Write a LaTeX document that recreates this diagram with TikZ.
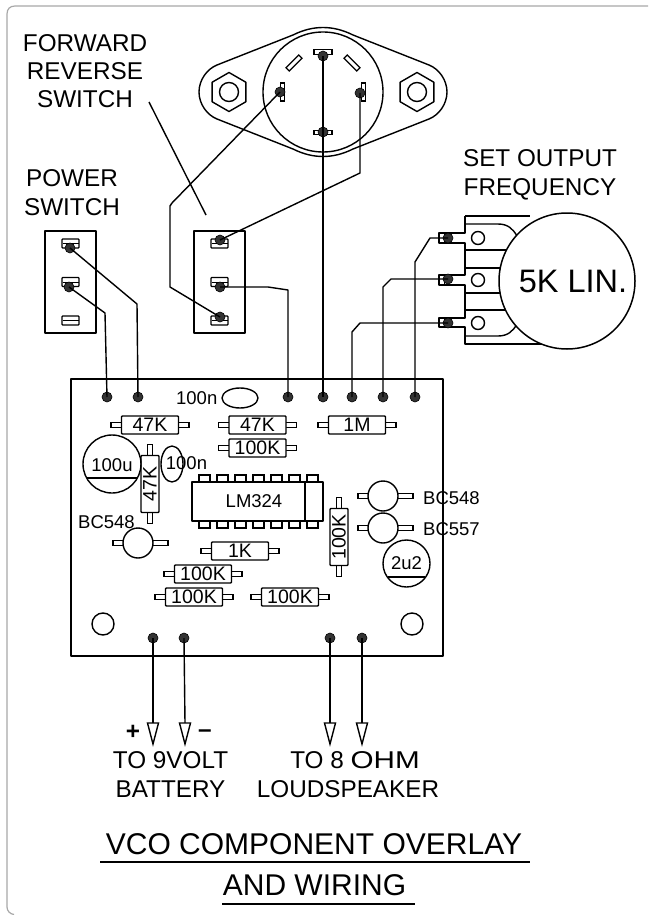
\documentclass[tikz,border=0pt]{standalone}
\usepackage{fontspec}
\setmainfont{Liberation Sans}
\usetikzlibrary{shapes.geometric}
\definecolor{dotc}{HTML}{333333}
\definecolor{framec}{HTML}{A8A8A8}
\tikzset{
  wire/.style={line width=1.4pt,line join=round,black},
  part/.style={line width=1.4pt,draw=black,line join=round},
  dot/.style={circle,fill=dotc,draw=black,line width=.6pt,minimum size=10pt,inner sep=0pt},
  slotbox/.style={draw=black,fill=white,line width=1.3pt,rounded corners=.8pt,minimum width=17pt,minimum height=9pt,inner sep=0pt},
  pin/.style={draw=black,fill=white,line width=1.3pt,minimum width=18pt,minimum height=4.5pt,inner sep=0pt},
  resbody/.style={draw=black,fill=white,line width=1.4pt,rounded corners=.8pt,minimum width=57pt,minimum height=18pt,inner sep=0pt,font=\fontsize{19.5}{20}\selectfont},
  lead/.style={draw=black,fill=white,line width=1.3pt},
  big/.style={font=\fontsize{24.3}{25}\selectfont,anchor=base,inner sep=0pt},
  small/.style={font=\fontsize{18.5}{19}\selectfont,inner sep=0pt},
  title/.style={font=\fontsize{30}{30}\selectfont,anchor=base,inner sep=0pt},
  arrowhd/.style={draw=black,fill=white,line width=1.4pt,line join=miter},
}
\newcommand{\ResH}[4]{%
  \draw[lead] (#2-39,#3-2.5) rectangle (#2+39,#3+2.5);
  \node[resbody] (#1) at (#2,#3) {#4};}
\newcommand{\ResV}[4]{%
  \draw[lead] (#2-2.5,#3-39.5) rectangle (#2+2.5,#3+39.5);
  \node[resbody,rotate=90] (#1) at (#2,#3) {#4};}
\newcommand{\Trans}[3]{%
  \draw[lead] (#2-25,#3-2.5) rectangle (#2+30,#3+2.5);
  \node[circle,draw=black,fill=white,line width=1.4pt,minimum size=30pt,inner sep=0pt] (#1) at (#2,#3) {};}
\newcommand{\SwitchSlot}[3]{%
  \node[slotbox] (#1) at (#2,#3) {};
  \draw[line width=.9pt] (#2-8,#3) -- (#2+8,#3);}
\begin{document}
\begin{tikzpicture}[x=1pt,y=-1pt]
\useasboundingbox (0,0) rectangle (648,915);
\fill[white] (0,0) rectangle (648,915);
\draw[framec,line width=1.2pt] (648,6) -- (15,6) .. controls (10,6) and (7,9) .. (7,14) -- (7,907) .. controls (7,911) and (10,914) .. (14,914.5);

% motor-style switch
\draw[part] (217,65) -- (293,35) .. controls (313,25) and (333,25) .. (353,35) -- (429,65)
  .. controls (439,69) and (447,80) .. (447,92) .. controls (447,104) and (439,115) .. (429,119)
  -- (353,149) .. controls (333,159) and (313,159) .. (293,149) -- (217,119)
  .. controls (207,115) and (199,104) .. (199,92) .. controls (199,80) and (207,69) .. (217,65) -- cycle;
\node[circle,part,minimum size=120pt,inner sep=0pt] (dial) at (323,92) {};
\foreach \n/\x in {hexl/229,hexr/417}{
  \node[regular polygon,regular polygon sides=6,regular polygon rotate=30,part,minimum size=39pt,inner sep=0pt] (\n) at (\x,92) {};
  \node[circle,part,minimum size=19pt,inner sep=0pt] (\n c) at (\x,92) {};
}
\node[pin] (st) at (323,52) {};
\node[pin] (sb) at (323,132.5) {};
\node[pin,rotate=90] (sl) at (282.5,92) {};
\node[pin,rotate=90] (sr) at (363.5,92) {};
\node[pin,rotate=45] (sd1) at (294,63) {};
\node[pin,rotate=-45] (sd2) at (352,63) {};
\node[dot] (dt) at (323,56) {};
\node[dot] (db) at (323,132) {};
\node[dot] (dl) at (280,92) {};
\node[dot] (dr) at (360,93) {};

% toggle switches
\node[part,minimum width=51pt,minimum height=102pt,inner sep=0pt] (pwr) at (70.5,282) {};
\node[part,minimum width=51pt,minimum height=102pt,inner sep=0pt] (fwd) at (219.5,282) {};
\SwitchSlot{p1}{70.5}{243.5}
\SwitchSlot{p2}{70.5}{282}
\SwitchSlot{p3}{70.5}{320.5}
\SwitchSlot{f1}{219.5}{243.5}
\SwitchSlot{f2}{219.5}{282}
\SwitchSlot{f3}{219.5}{320.5}
\node[dot] (dp1) at (70,248) {};
\node[dot] (dp2) at (69,287) {};
\node[dot] (df1) at (220,240) {};
\node[dot] (df2) at (220,287) {};
\node[dot] (df3) at (220,317) {};

% potentiometer
\draw[part] (465,216) -- (530,216);
\draw[part] (565,344) -- (465,344) -- (465,327) -- (439,327) -- (439,318) -- (465,318) -- (465,285) -- (439,285) -- (439,275) -- (465,275) -- (465,243) -- (439,243) -- (439,233) -- (465,233) -- (465,216);
\draw[part] (465,250) -- (520,250) (465,268) -- (510,268) (465,293) -- (510,293) (465,310) -- (520,310);
\draw[part] (465,224) -- (498,224) .. controls (508,224) and (513,229) .. (517,236);
\draw[part] (465,336) -- (498,336) .. controls (508,336) and (513,331) .. (517,324);
\draw[line width=1pt] (444,233) -- (444,243) (444,275) -- (444,285) (444,318) -- (444,327);
\node[circle,part,minimum size=13pt,inner sep=0pt] (h1) at (478,238) {};
\node[circle,part,minimum size=13pt,inner sep=0pt] (h2) at (478,280) {};
\node[circle,part,minimum size=13pt,inner sep=0pt] (h3) at (478,323) {};
\node[circle,draw=black,fill=white,line width=1.5pt,minimum size=136pt,inner sep=0pt,font=\fontsize{32.5}{33}\selectfont] (pot) at (567,281) {\hspace*{12pt}5K LIN.};
\node[dot] (t1) at (448,238) {};
\node[dot] (t2) at (448,279) {};
\node[dot] (t3) at (448,323) {};

% board
\node[part,minimum width=372pt,minimum height=277pt,inner sep=0pt] (board) at (257,517.5) {};
\foreach \n/\x in {a/107,b/138,c/288,d/323,e/352,f/383,g/415}{
  \node[dot] (pad\n) at (\x,397) {};
}
\foreach \n/\x in {w/153,x/184,y/330,z/362}{
  \node[dot] (pad\n) at (\x,638) {};
}
\node[circle,part,minimum size=22pt,inner sep=0pt] (hole1) at (103,624) {};
\node[circle,part,minimum size=22pt,inner sep=0pt] (hole2) at (412,624) {};

\ResH{r1}{150}{425}{47K}
\ResH{r2}{257.5}{425}{47K}
\ResH{r3}{257.5}{448}{100K}
\ResH{r4}{357}{425}{1M}
\ResV{r5}{150}{484}{47K}
\ResV{r6}{339}{537}{100K}
\ResH{r7}{240}{551}{1K}
\ResH{r8}{203}{574}{100K}
\ResH{r9}{194}{597}{100K}
\ResH{r10}{290}{597}{100K}

\node[ellipse,part,minimum width=36pt,minimum height=20pt,inner sep=0pt] (c1) at (240,398) {};
\node[small,anchor=east] (c1t) at (217.5,398) {100n};
\node[circle,part,minimum size=58pt,inner sep=0pt] (c2) at (112,464) {};
\draw[part] (87,478) -- (137,478);
\node[small] (c2t) at (112,465) {100u};
\node[ellipse,part,minimum width=22pt,minimum height=36pt,inner sep=0pt] (c3) at (172,464) {};
\node[small] (c3t) at (186.5,463) {100n};
\node[circle,part,minimum size=47pt,inner sep=0pt] (c4) at (406.5,563.5) {};
\draw[part] (388,577) -- (425,577);
\node[small] (c4t) at (406.5,563) {2u2};

\Trans{q1}{138}{543}
\Trans{q2}{383}{496}
\Trans{q3}{383}{528}
\node[small,anchor=base] (q1t) at (106.5,528) {BC548};
\node[small,anchor=west] (q2t) at (423,498) {BC548};
\node[small,anchor=west] (q3t) at (423,529) {BC557};

% IC
\foreach \i in {0,...,6}{
  \draw[lead] (199+18*\i,475) rectangle (210+18*\i,482);
  \draw[lead] (199+18*\i,521) rectangle (210+18*\i,528);
}
\node[part,minimum width=131pt,minimum height=39pt,inner sep=0pt] (ic) at (257.5,501.5) {};
\draw[part] (305,482) -- (305,521);
\node[small] (ict) at (254,501) {LM324};

% wires
\draw[wire] (dt.center) -- (padd.center);
\draw[wire] (dl.center) -- (172,203) -- (170,206) -- (170,287) -- (df3.center);
\draw[wire] (dr.center) -- (360,173) -- (df1.center);
\draw[wire] (df2.center) -- (268,287) -- (288,290) -- (padc.center);
\draw[wire] (dp1.center) -- (137,304) -- (padb.center);
\draw[wire] (dp2.center) -- (105,313) -- (pada.center);
\draw[wire] (t1.center) -- (430,238) -- (415,262) -- (padg.center);
\draw[wire] (t2.center) -- (391,279) -- (383,287) -- (padf.center);
\draw[wire] (t3.center) -- (360,323) -- (352,332) -- (pade.center);
\coordinate (ptrs) at (149,102);
\coordinate (ptre) at (206,215);
\draw[wire] (ptrs) -- (ptre);

% output arrows
\foreach \n/\x in {w/153,x/185,y/330,z/362}{
  \coordinate (tip\n) at (\x,723);
  \draw[wire] (pad\n.center) -- (tip\n);
  \draw[arrowhd] (\x-5.5,723) -- (\x+5.5,723) -- (\x,744) -- cycle;
}

% texts
\node[big] (tfwd) at (85,52) {FORWARD};
\node[big] (trev) at (85,80) {REVERSE};
\node[big] (tsw) at (85,108) {SWITCH};
\node[big] (tpow) at (72,186) {POWER};
\node[big] (tsw2) at (72,215) {SWITCH};
\node[big] (tset) at (540,166) {SET OUTPUT};
\node[big] (tfreq) at (540,195) {FREQUENCY};
\node[big] (tplus) at (133,739) {\textbf{+}};
\node[big] (tminus) at (205,737.5) {\textbf{–}};
\node[big] (tb1) at (170.5,768) {TO 9VOLT};
\node[big] (tb2) at (170.5,797) {BATTERY};
\node[big] (tl1) at (355,768) {TO 8 \scalebox{1.22}[1]{OHM}};
\node[big] (tl2) at (348,797) {LOUDSPEAKER};
\node[title] (tt1) at (314,854) {VCO COMPONENT OVERLAY};
\node[title] (tt2) at (314.5,895) {AND WIRING};
\draw[line width=1.6pt] (100,862) -- (530,862) (222,904) -- (415,904);
\end{tikzpicture}
\end{document}
